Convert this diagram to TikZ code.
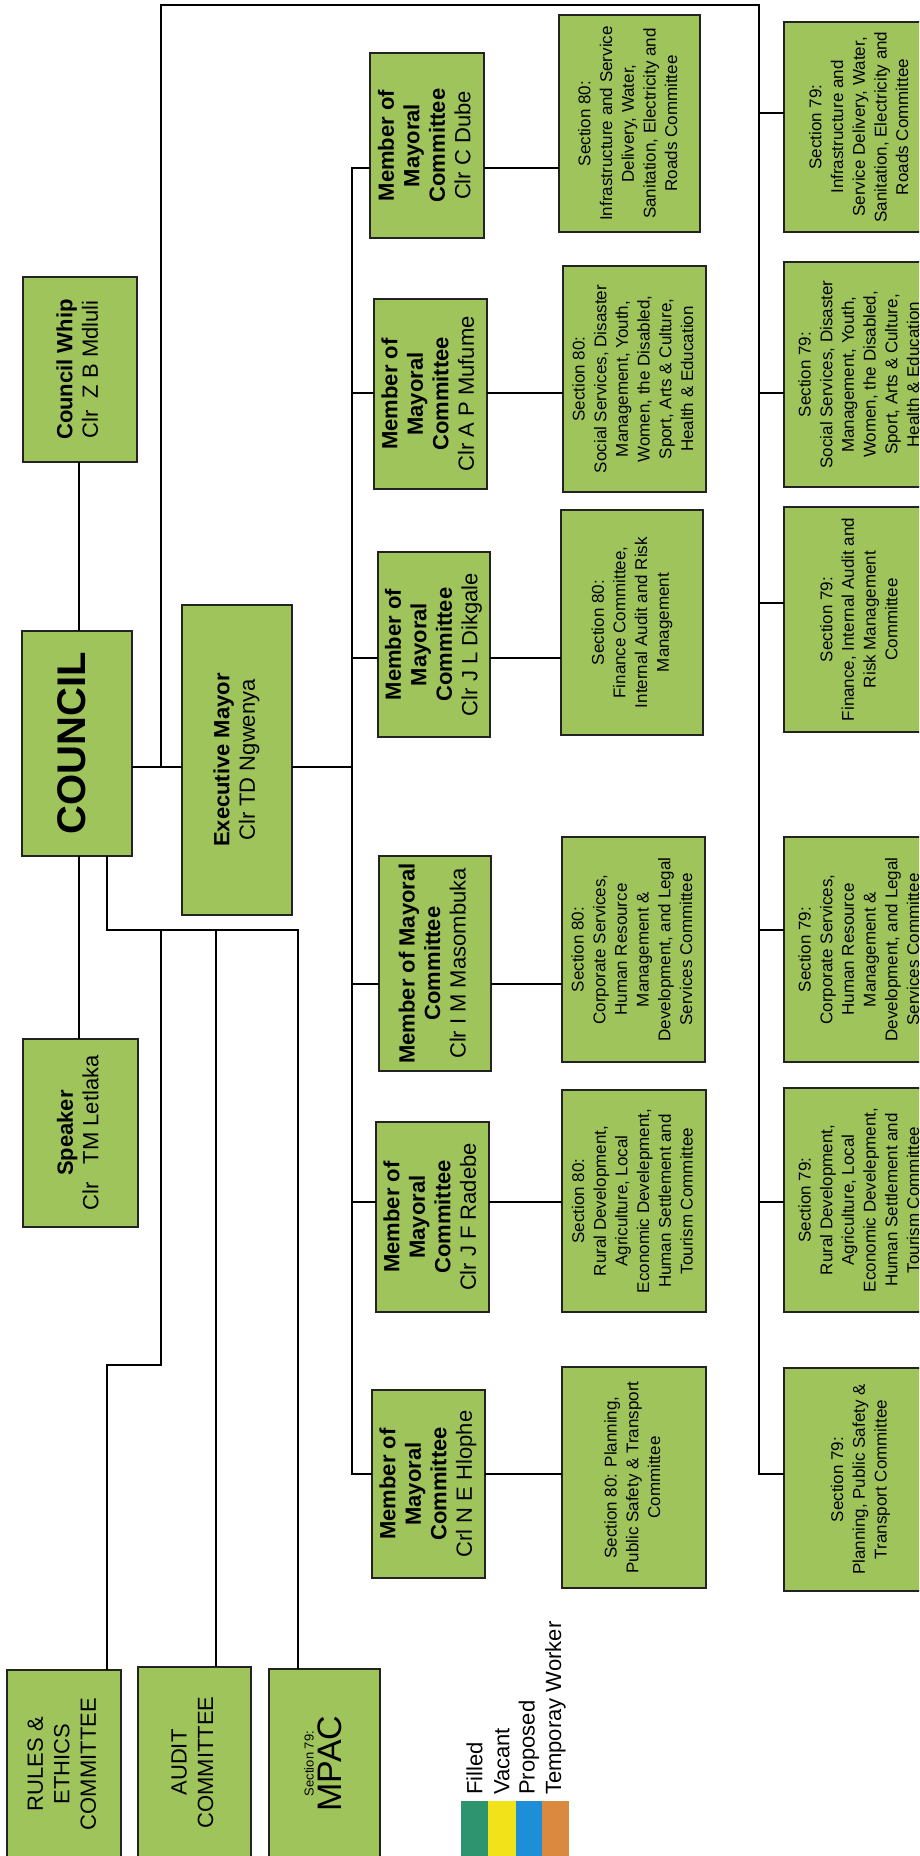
\documentclass[tikz,border=0pt]{standalone}
\usepackage{fontspec}
\setmainfont{Liberation Sans}
\definecolor{boxfill}{RGB}{160,196,92}
\definecolor{boxline}{RGB}{35,35,35}
\definecolor{filledc}{RGB}{46,148,112}
\definecolor{vacantc}{RGB}{242,226,26}
\definecolor{proposedc}{RGB}{30,143,214}
\definecolor{tempc}{RGB}{217,138,62}
% vertical (bottom-to-top) multi-line text
\newcommand\vt[1]{\rotatebox{90}{\begin{tabular}{@{}c@{}}#1\end{tabular}}}
\newcommand\mmctext[1]{\vt{\textbf{Member of}\\\textbf{Mayoral}\\\textbf{Committee}\\#1}}
\begin{document}
\begin{tikzpicture}[x=1pt,y=-1pt,
  box/.style={rectangle, draw=boxline, fill=boxfill, line width=1.5pt,
    inner sep=0pt, outer sep=0pt, text=black},
  big/.style={font=\fontsize{22}{25.5}\selectfont},
  sect/.style={font=\fontsize{17}{21.7}\selectfont},
  link/.style={line width=1.8pt, black},
  legtext/.style={font=\fontsize{22}{26}\selectfont, inner sep=0pt, anchor=south}]
\useasboundingbox (0,0) rectangle (919,1856);
\clip (0,0) rectangle (919,1856);
\fill[white] (0,0) rectangle (919,1856);

% council and its direct offices
\node[box, big, minimum width=114, minimum height=185] (whip) at (80,369.5)
  {\vt{\textbf{Council Whip}\\Clr\ \ Z B Mdluli}};
\node[box, minimum width=110, minimum height=225,
  font=\fontsize{40}{44}\selectfont\bfseries] (council) at (77,743.5) {\vt{COUNCIL}};
\node[box, big, minimum width=115, minimum height=188] (speaker) at (80.5,1133)
  {\vt{\textbf{Speaker}\\Clr\ \ \ TM Letlaka}};
\node[box, big, minimum width=110, minimum height=310] (exec) at (237,760)
  {\vt{\textbf{Executive Mayor}\\Clr TD Ngwenya}};

% committees reporting to council
\node[box, font=\fontsize{22}{26.5}\selectfont, minimum width=114, minimum height=188] (rules) at (64,1764)
  {\vt{RULES \&\\ETHICS\\COMMITTEE}};
\node[box, font=\fontsize{22}{26.5}\selectfont, minimum width=113, minimum height=191] (audit) at (194.5,1762.5)
  {\vt{AUDIT\\COMMITTEE}};
\node[box, minimum width=111, minimum height=189] (mpac) at (324.5,1763.5)
  {\vt{{\fontsize{13}{15}\selectfont Section 79:}\\{\fontsize{34}{34}\selectfont MPAC}}};

% members of the mayoral committee
\node[box, big, minimum width=114, minimum height=185] (dube) at (427,145.5) {\mmctext{Clr C Dube}};
\node[box, big, minimum width=113, minimum height=190] (mufume) at (430.5,394) {\mmctext{Clr A P Mufume}};
\node[box, big, minimum width=112, minimum height=185] (dikgale) at (434,644.5) {\mmctext{Clr J L Dikgale}};
\node[box, big, minimum width=112, minimum height=215] (masombuka) at (435,963.5)
  {\vt{\textbf{Member of Mayoral}\\\textbf{Committee}\\Clr I M Masombuka}};
\node[box, big, minimum width=113, minimum height=190] (radebe) at (432.5,1217) {\mmctext{Clr J F Radebe}};
\node[box, big, minimum width=113, minimum height=188] (hlophe) at (428.5,1484) {\mmctext{Crl N E Hlophe}};

% section 80 committees
\node[box, sect, minimum width=141, minimum height=217] (s80a) at (629.5,123.5)
  {\vt{Section 80:\\Infrastructure and Service\\Delivery, Water,\\Sanitation, Electricity and\\Roads Committee}};
\node[box, sect, minimum width=143, minimum height=226] (s80b) at (634.5,379)
  {\vt{Section 80:\\Social Services, Disaster\\Management, Youth,\\Women, the Disabled,\\Sport, Arts \& Culture,\\Health \& Education}};
\node[box, sect, minimum width=142, minimum height=225] (s80c) at (632,622.5)
  {\vt{Section 80:\\Finance Committee,\\Internal Audit and Risk\\Management}};
\node[box, sect, minimum width=143, minimum height=225] (s80d) at (633.5,949.5)
  {\vt{Section 80:\\Corporate Services,\\Human Resource\\Management \&\\Development, and Legal\\Services Committee}};
\node[box, sect, minimum width=144, minimum height=222] (s80e) at (634,1201)
  {\vt{Section 80:\\Rural Development,\\Agriculture, Local\\Economic Develepment,\\Human Settlement and\\Tourism Committee}};
\node[box, sect, minimum width=144, minimum height=221] (s80f) at (634,1477.5)
  {\vt{Section 80: Planning,\\Public Safety \& Transport\\Committee}};

% section 79 committees
\node[box, sect, minimum width=153, minimum height=210] (s79a) at (860.5,127)
  {\vt{Section 79:\\Infrastructure and\\Service Delivery, Water,\\Sanitation, Electricity and\\Roads Committee}};
\node[box, sect, minimum width=153, minimum height=225] (s79b) at (860.5,374.5)
  {\vt{Section 79:\\Social Services, Disaster\\Management, Youth,\\Women, the Disabled,\\Sport, Arts \& Culture,\\Health \& Education}};
\node[box, sect, minimum width=153, minimum height=225] (s79c) at (860.5,619.5)
  {\vt{Section 79:\\Finance, Internal Audit and\\Risk Management\\Committee}};
\node[box, sect, minimum width=153, minimum height=225] (s79d) at (860.5,949.5)
  {\vt{Section 79:\\Corporate Services,\\Human Resource\\Management \&\\Development, and Legal\\Services Committee}};
\node[box, sect, minimum width=153, minimum height=224] (s79e) at (860.5,1200)
  {\vt{Section 79:\\Rural Development,\\Agriculture, Local\\Economic Develepment,\\Human Settlement and\\Tourism Committee}};
\node[box, sect, minimum width=153, minimum height=223] (s79f) at (860.5,1479.5)
  {\vt{Section 79:\\Planning, Public Safety \&\\Transport Committee}};

% council links
\draw[link] (79,0 |- whip.south) -- (79,0 |- council.north);
\draw[link] (79,0 |- council.south) -- (79,0 |- speaker.north);
\draw[link] (council.east |- 0,767) -- (exec.west |- 0,767);
\draw[link] (107,0 |- council.south) -- (107,930) -- (298,930) -- (298,0 |- mpac.north);
\draw[link] (216,930) -- (216,0 |- audit.north);
\draw[link] (161,930) -- (161,1365) -- (107,1365) -- (107,0 |- rules.north);

% council to the section 79 committees
\draw[link] (161,767) -- (161,5) -- (759,5) -- (759,1474) -- (s79f.west |- 0,1474);
\draw[link] (759,113) -- (s79a.west |- 0,113);
\draw[link] (759,393) -- (s79b.west |- 0,393);
\draw[link] (759,603) -- (s79c.west |- 0,603);
\draw[link] (759,930) -- (s79d.west |- 0,930);
\draw[link] (759,1202) -- (s79e.west |- 0,1202);

% executive mayor to the mayoral committee
\draw[link] (exec.east |- 0,767) -- (352,767);
\draw[link] (dube.west |- 0,168) -- (352,168) -- (352,1474) -- (hlophe.west |- 0,1474);
\draw[link] (352,393) -- (mufume.west |- 0,393);
\draw[link] (352,658) -- (dikgale.west |- 0,658);
\draw[link] (352,984) -- (masombuka.west |- 0,984);
\draw[link] (352,1202) -- (radebe.west |- 0,1202);

% mayoral committee members to their section 80 committees
\draw[link] (dube.east |- 0,168) -- (s80a.west |- 0,168);
\draw[link] (mufume.east |- 0,393) -- (s80b.west |- 0,393);
\draw[link] (dikgale.east |- 0,658) -- (s80c.west |- 0,658);
\draw[link] (masombuka.east |- 0,984) -- (s80d.west |- 0,984);
\draw[link] (radebe.east |- 0,1202) -- (s80e.west |- 0,1202);
\draw[link] (hlophe.east |- 0,1474) -- (s80f.west |- 0,1474);

% legend
\fill[filledc] (461,1801) rectangle (488,1860);
\fill[vacantc] (488,1801) rectangle (516,1860);
\fill[proposedc] (516,1801) rectangle (542,1860);
\fill[tempc] (542,1801) rectangle (569,1860);
\node[legtext] (lf) at (474.5,1795) {\rotatebox{90}{Filled}};
\node[legtext] (lv) at (502,1795) {\rotatebox{90}{Vacant}};
\node[legtext] (lp) at (529,1795) {\rotatebox{90}{Proposed}};
\node[legtext] (lt) at (555.5,1795) {\rotatebox{90}{Temporay Worker}};
\end{tikzpicture}
\end{document}
